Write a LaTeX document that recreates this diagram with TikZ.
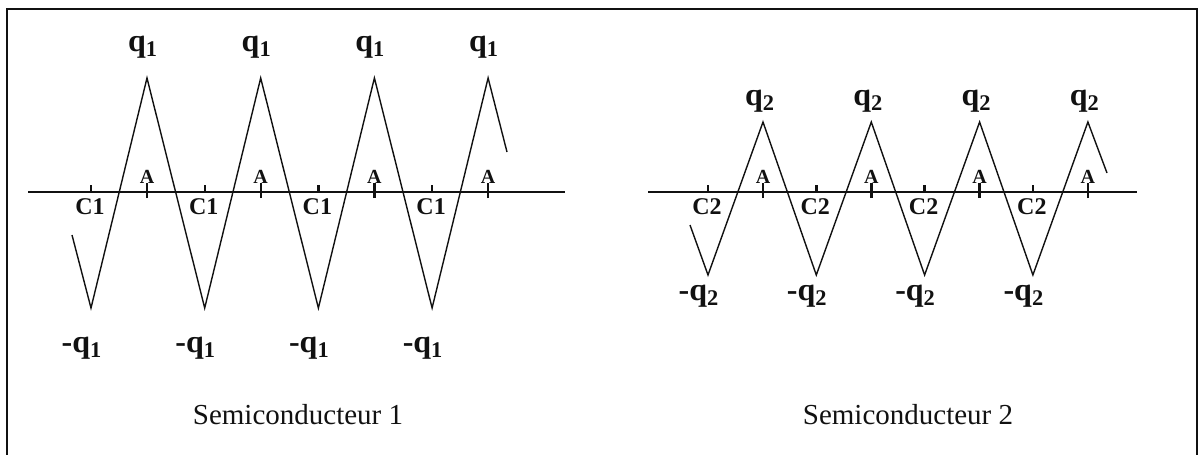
\documentclass[tikz,border=0pt]{standalone}
\usepackage{fontspec}
\setmainfont{Liberation Serif}
\usepackage{xcolor}
\definecolor{printink}{HTML}{111111}

\begin{document}
\begin{tikzpicture}[x=0.5pt,y=-0.5pt,
  point/.style={coordinate},
  wave/.style={draw=printink, line width=0.7pt, line join=miter},
  axis/.style={draw=printink, line width=1.2pt},
  charge/.style={text=printink, inner sep=0pt, font=\bfseries\fontsize{16}{16}\selectfont},
  site/.style={text=printink, inner sep=0pt, font=\bfseries\fontsize{12}{12}\selectfont},
  anode/.style={text=printink, inner sep=0pt, font=\bfseries\fontsize{10}{10}\selectfont},
  caption/.style={text=printink, inner sep=0pt, font=\fontsize{14.5}{14.5}\selectfont}]
\useasboundingbox (0,0) rectangle (1200,455);
\draw[draw=printink, line width=1pt] (7,455) -- (7,9) -- (1197,9) -- (1197,455);

% semiconducteur 1
\node[point] (a1l) at (28,192)  {};
\node[point] (a1r) at (565,192) {};
\draw[axis] (a1l) -- (a1r);
\node[point] (s1) at (72,235)  {};
\node[point] (e1) at (507,152) {};
\foreach \k in {0,...,3} {
  \node[point] (t1\k) at ({91+113.7*\k},308) {};
  \node[point] (p1\k) at ({147+113.7*\k},78)  {};
  \draw[axis] (t1\k |- a1l) -- ++(0,-7);
  \draw[axis] (p1\k |- a1l) ++(0,6) -- ++(0,-15);
  \node[site]  at ({90+113.7*\k},207)  {C1};
  \node[anode] at ({147+113.7*\k},177) {A};
  \node[charge] at ({143+113.7*\k},47)  {q\textsubscript{1}};
  \node[charge] at ({82+113.7*\k},348)  {-q\textsubscript{1}};
}
\draw[wave] (s1) -- (t10) -- (p10) -- (t11) -- (p11) -- (t12) -- (p12) -- (t13) -- (p13) -- (e1);
\node[caption] (cap1) at (298,415) {Semiconducteur 1};

% semiconducteur 2
\node[point] (a2l) at (648,192)  {};
\node[point] (a2r) at (1137,192) {};
\draw[axis] (a2l) -- (a2r);
\node[point] (s2) at (690,225)  {};
\node[point] (e2) at (1107,173) {};
\foreach \k in {0,...,3} {
  \node[point] (t2\k) at ({708+108.3*\k},275) {};
  \node[point] (p2\k) at ({763+108.3*\k},122) {};
  \draw[axis] (t2\k |- a2l) -- ++(0,-7);
  \draw[axis] (p2\k |- a2l) ++(0,6) -- ++(0,-15);
  \node[site]  at ({707+108.3*\k},207)  {C2};
  \node[anode] at ({763+108.3*\k},177)  {A};
  \node[charge] at ({760+108.3*\k},101) {q\textsubscript{2}};
  \node[charge] at ({699+108.3*\k},296) {-q\textsubscript{2}};
}
\draw[wave] (s2) -- (t20) -- (p20) -- (t21) -- (p21) -- (t22) -- (p22) -- (t23) -- (p23) -- (e2);
\node[caption] (cap2) at (908,415) {Semiconducteur 2};
\end{tikzpicture}
\end{document}
